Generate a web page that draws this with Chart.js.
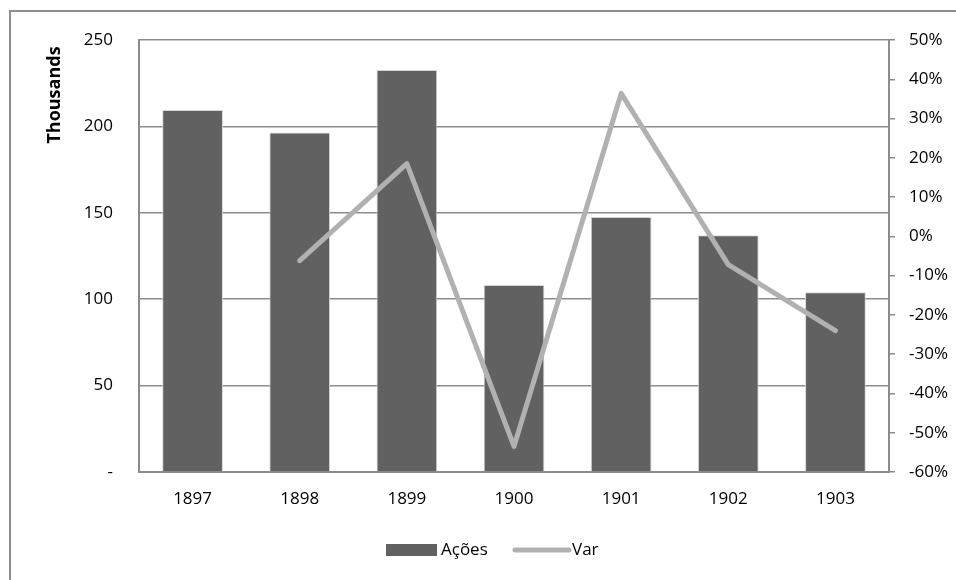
<!DOCTYPE html>
<html>
<head>
<meta charset="utf-8">
<script src="https://cdn.jsdelivr.net/npm/chart.js@4/dist/chart.umd.min.js"></script>
<style>
  html, body { margin: 0; padding: 0; background: #fff; overflow: hidden; }
  #frame { position: absolute; left: 9px; top: 10px; width: 1200px; height: 900px;
           border: 2px solid #8f8f8f; box-sizing: border-box; }
  #wrap { position: absolute; left: 0; top: 0; width: 956px; height: 580px; }
</style>
</head>
<body>
<div id="frame"></div>
<div id="wrap"><canvas id="c" width="956" height="580"></canvas></div>
<script>
// Years on the category axis
const years = ['1897', '1898', '1899', '1900', '1901', '1902', '1903'];
// Ações, in thousands
const acoes = [209.5, 196.4, 232.6, 108.2, 147.6, 137.0, 104.0];
// Year-on-year variation, in percent
const variacao = [null, -6.2, 18.5, -53.5, 36.4, -7.2, -24.0];
// Axis ticks
const leftTicks = [0, 50, 100, 150, 200, 250];
const rightTicks = [-60, -50, -40, -30, -20, -10, 0, 10, 20, 30, 40, 50];

const FONT = '"Open Sans", "Liberation Sans", sans-serif';
const BAR = '#616161';
const LINE = '#b1b1b1';
const GRID = '#8c8c8c';

// Rotated "Thousands" title beside the left axis
const unitTitle = {
  id: 'unitTitle',
  afterDraw(chart) {
    const ctx = chart.ctx;
    ctx.save();
    ctx.translate(55, 95);
    ctx.rotate(-Math.PI / 2);
    ctx.font = 'bold 18px ' + FONT;
    ctx.fillStyle = '#000';
    ctx.textAlign = 'center';
    ctx.textBaseline = 'middle';
    ctx.fillText('Thousands', 0, 0);
    ctx.restore();
  }
};

// Legend row under the axis, built from the datasets (bars first, then line)
const bottomLegend = {
  id: 'bottomLegend',
  afterDraw(chart) {
    const ctx = chart.ctx;
    const y = 550;
    const bars = chart.data.datasets.find(d => d.type === 'bar');
    const line = chart.data.datasets.find(d => d.type === 'line');
    ctx.save();
    ctx.font = '17px ' + FONT;
    ctx.textBaseline = 'middle';
    // bar swatch
    ctx.fillStyle = bars.backgroundColor;
    ctx.fillRect(386, y - 6, 51, 12);
    ctx.fillStyle = '#000';
    ctx.fillText(bars.label, 441, y);
    // line swatch
    ctx.strokeStyle = line.borderColor;
    ctx.lineWidth = 5;
    ctx.lineCap = 'round';
    ctx.beginPath();
    ctx.moveTo(515, y);
    ctx.lineTo(569, y);
    ctx.stroke();
    ctx.fillText(line.label, 572, y);
    ctx.restore();
  }
};

new Chart(document.getElementById('c'), {
  data: {
    labels: years,
    datasets: [
      {
        type: 'bar',
        label: 'Ações',
        data: acoes,
        yAxisID: 'yL',
        backgroundColor: BAR,
        borderColor: '#d6d6d6',
        borderWidth: 1,
        categoryPercentage: 1,
        barPercentage: 0.567,
        order: 1
      },
      {
        type: 'line',
        label: 'Var',
        data: variacao,
        yAxisID: 'yR',
        borderColor: LINE,
        borderWidth: 5,
        borderJoinStyle: 'round',
        borderCapStyle: 'round',
        pointRadius: 0,
        tension: 0,
        order: 0
      }
    ]
  },
  options: {
    responsive: false,
    animation: false,
    layout: { padding: { top: 40, bottom: 0, left: 0, right: 0 } },
    plugins: { legend: { display: false }, tooltip: { enabled: false } },
    scales: {
      x: {
        afterFit(s) { s.height = 108; },
        grid: { display: false, drawTicks: false },
        border: { display: true, color: GRID, width: 2 },
        ticks: { color: '#000', font: { family: FONT, size: 17 }, padding: 17 }
      },
      yL: {
        position: 'left',
        min: 0, max: 250,
        afterFit(s) { s.width = 139; },
        afterBuildTicks(s) { s.ticks = leftTicks.map(v => ({ value: v })); },
        grid: { color: GRID, lineWidth: 1.5, drawTicks: false },
        border: { display: true, color: GRID, width: 2 },
        ticks: {
          color: '#000', font: { family: FONT, size: 17 }, padding: 26,
          callback: v => (v === 0 ? '-' : String(v))
        }
      },
      yR: {
        position: 'right',
        min: -60, max: 50,
        afterFit(s) { s.width = 67; },
        afterBuildTicks(s) { s.ticks = rightTicks.map(v => ({ value: v })); },
        grid: { drawOnChartArea: false, drawTicks: true, tickLength: 6, color: GRID, lineWidth: 1.5 },
        border: { display: true, color: GRID, width: 2 },
        ticks: {
          color: '#000', font: { family: FONT, size: 17 }, padding: 14,
          callback: v => v + '%'
        }
      }
    }
  },
  plugins: [unitTitle, bottomLegend]
});
</script>
</body>
</html>
